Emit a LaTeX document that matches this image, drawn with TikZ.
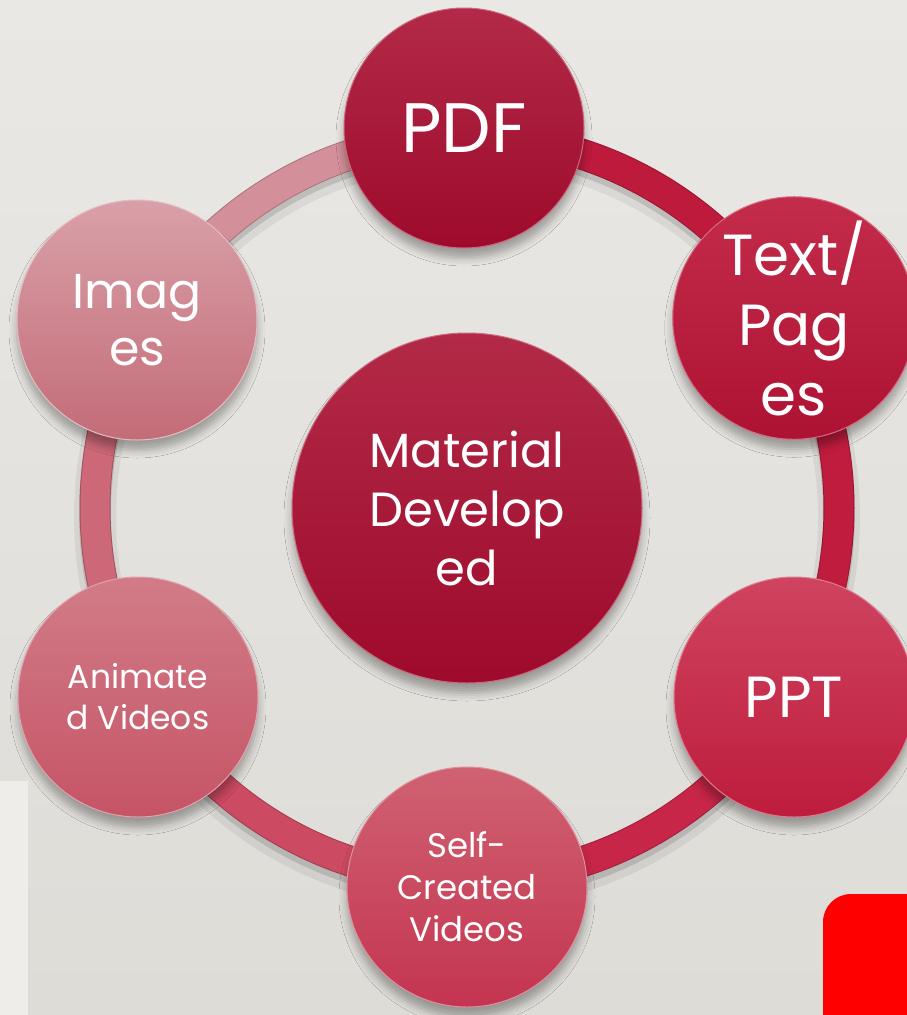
\documentclass[tikz,border=0pt]{standalone}
\usepackage{fontspec}
\setmainfont{Poppins}
\usetikzlibrary{shadows.blur}

% palette
\definecolor{bgtop}{HTML}{E9E8E5}
\definecolor{bgbot}{HTML}{DEDCD7}
\definecolor{strip}{HTML}{EFEDE9}
\definecolor{pdfT}{HTML}{B22A47}\definecolor{pdfB}{HTML}{9E0A2C}
\definecolor{txtT}{HTML}{C42C4C}\definecolor{txtB}{HTML}{AE1232}
\definecolor{pptT}{HTML}{CF4460}\definecolor{pptB}{HTML}{BE1C3C}
\definecolor{selfT}{HTML}{D06272}\definecolor{selfB}{HTML}{C43450}
\definecolor{animT}{HTML}{D27C88}\definecolor{animB}{HTML}{C55466}
\definecolor{imgT}{HTML}{D9A0A8}\definecolor{imgB}{HTML}{C36C78}
\definecolor{ringA}{HTML}{BE1A3C}
\definecolor{ringB}{HTML}{C01C3E}
\definecolor{ringC}{HTML}{C82648}
\definecolor{ringD}{HTML}{CC4A62}
\definecolor{ringE}{HTML}{CC6878}
\definecolor{ringF}{HTML}{D4909A}

\tikzset{
  bubble/.style={circle, minimum size=240pt, inner sep=0pt, text=white,
    align=center, line width=1pt,
    blur shadow={shadow xshift=0pt, shadow yshift=-10pt,
      shadow blur radius=8pt, shadow opacity=32}},
  hub/.style={bubble, minimum size=350pt},
  ringseg/.style={line width=29pt},
  ringedge/.style={line width=31pt},
}

\begin{document}
\begin{tikzpicture}[x=1pt,y=1pt]
  \useasboundingbox (0,0) rectangle (907,-1015);
  \clip (0,0) rectangle (907,-1015);

  % backdrop
  \shade[top color=bgtop, bottom color=bgbot] (0,0) rectangle (907,-1015);
  \fill[strip] (0,-781) rectangle (28,-1015);
  \fill[red, rounded corners=28pt] (823,-894) rectangle (960,-1060);

  \coordinate (ctr) at (467,-508);

  % ring shadow
  \draw[black, opacity=0.06, line width=42pt] ([yshift=-9pt]ctr) circle[radius=372];
  \draw[black, opacity=0.12, line width=32pt] ([yshift=-6pt]ctr) circle[radius=372];

  % ring segments
  \foreach \a/\b/\c in {90/30/ringA, 30/-30/ringB, -30/-90/ringC,
                        -90/-150/ringD, -150/-210/ringE, 150/90/ringF}{
    \draw[ringedge, draw=\c!80!black] ([shift={(\a:372)}]ctr)
         arc[start angle=\a, end angle=\b, radius=372];
    \draw[ringseg, draw=\c] ([shift={(\a:372)}]ctr)
         arc[start angle=\a, end angle=\b, radius=372];
  }

  % hub
  \node[hub, top color=pdfT, bottom color=pdfB, draw=pdfT!70!white,
        font=\fontsize{48}{59}\selectfont] (mat) at (ctr)
        {Material\\Develop\\ed};

  % outer bubbles
  \node[bubble, top color=pdfT, bottom color=pdfB, draw=pdfT!70!white,
        font=\fontsize{70}{77}\selectfont] (pdf) at (464,-128) {PDF};
  \node[bubble, top color=txtT, bottom color=txtB, draw=txtT!70!white,
        font=\fontsize{58}{70}\selectfont] (txt) at (794,-318) {Text/\\Pag\\es};
  \node[bubble, top color=pptT, bottom color=pptB, draw=pptT!70!white,
        font=\fontsize{58}{64}\selectfont] (ppt) at (794,-697) {PPT};
  \node[bubble, top color=selfT, bottom color=selfB, draw=selfT!70!white,
        font=\fontsize{34}{42}\selectfont] (self) at (467,-887) {Self-\\Created\\Videos};
  \node[bubble, top color=animT, bottom color=animB, draw=animT!70!white,
        font=\fontsize{33}{41}\selectfont] (anim) at (138,-697) {Animate\\d Videos};
  \node[bubble, top color=imgT, bottom color=imgB, draw=imgT!70!white,
        font=\fontsize{49}{57}\selectfont] (img) at (137,-320) {Imag\\es};
\end{tikzpicture}
\end{document}
